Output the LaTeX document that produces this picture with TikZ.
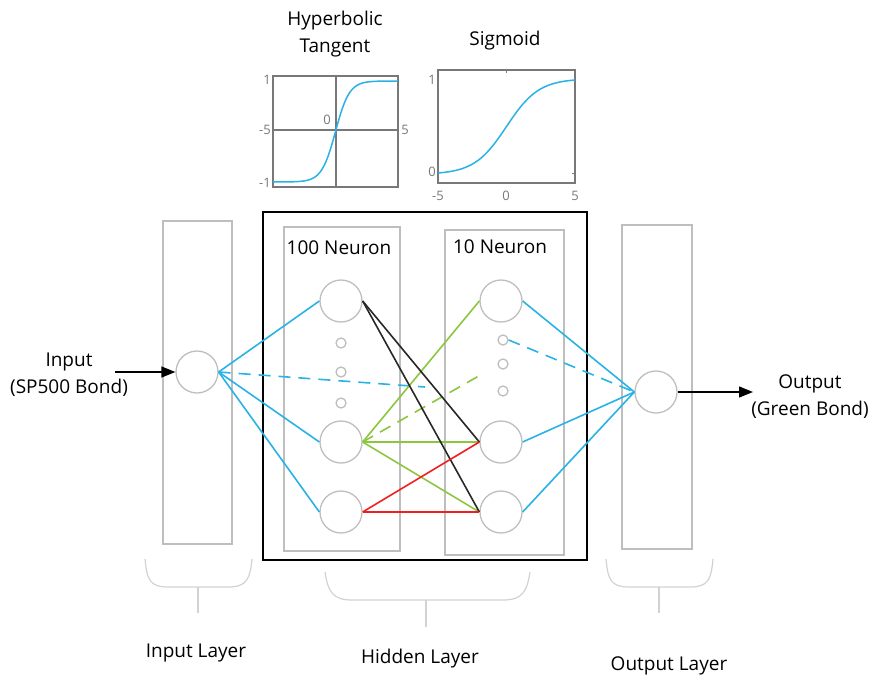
\documentclass[tikz,border=0pt]{standalone}
\usepackage{fontspec}
\setmainfont{Open Sans}
\usetikzlibrary{arrows.meta}
\definecolor{wblue}{RGB}{41,178,230}
\definecolor{wgreen}{RGB}{140,198,63}
\definecolor{wred}{RGB}{240,30,30}
\definecolor{wblack}{RGB}{40,40,40}
\definecolor{boxgray}{RGB}{190,190,190}
\definecolor{axgray}{RGB}{120,120,120}

\begin{document}
\begin{tikzpicture}[x=1pt,y=-1pt,
   neuron/.style={circle,draw=boxgray,line width=1.3pt,minimum size=42pt,inner sep=0pt},
   dot/.style={circle,draw=boxgray,line width=1.3pt,minimum size=10pt,inner sep=0pt},
   layerbox/.style={draw=boxgray,line width=1.1pt},
   lbl/.style={font=\fontsize{19}{27}\selectfont,align=center},
   tick/.style={font=\fontsize{13}{14}\selectfont,text=axgray,inner sep=1pt},
   wire/.style={line width=1.6pt},
   brace/.style={draw=gray!35,line width=1.2pt},
   arr/.style={line width=1.3pt,-{Triangle[length=14pt,width=11pt]}}]
   \useasboundingbox (0,0) rectangle (869,677);

   % activation plots
   \node[lbl] (tanht) at (335,34) {Hyperbolic\\Tangent};
   \node[lbl] (sigt) at (505,41) {Sigmoid};
   \draw[axgray,line width=1.6pt] (273,76) rectangle (398,187);
   \draw[axgray,line width=1.6pt] (336,76) -- (336,187);
   \draw[axgray,line width=1.6pt] (273,130) -- (398,130);
   \draw[wblue,line width=1.5pt] plot[domain=-5:5,samples=80,smooth] ({335.5+12.5*\x},{131.5-50.5*tanh(0.9*\x)});
   \node[tick,anchor=east] (t1) at (272,80) {1};
   \node[tick,anchor=east] (t2) at (272,130) {-5};
   \node[tick,anchor=east] (t3) at (272,183) {-1};
   \node[tick] (t4) at (327,120) {0};
   \node[tick] (t5) at (405,130) {5};

   \draw[axgray,line width=1.6pt] (438,70) rectangle (575,183);
   \draw[axgray,line width=1pt] (506,70) -- (506,73);
   \draw[axgray,line width=1pt] (575,173) -- (572,173);
   \draw[wblue,line width=1.5pt] plot[domain=-5:5,samples=80,smooth] ({506.5+13.7*\x},{173-93*(1/(1+exp(-0.85*\x))-0.014)/0.972});
   \node[tick,anchor=east] (s1) at (437,80) {1};
   \node[tick,anchor=east] (s2) at (437,172) {0};
   \node[tick] (s3) at (438,196) {-5};
   \node[tick] (s4) at (506,196) {0};
   \node[tick] (s5) at (575,196) {5};

   % layers
   \draw[layerbox] (163,221) rectangle (232,544);
   \draw[black,line width=1.5pt] (263,212) rectangle (587,560);
   \draw[layerbox] (284,227) rectangle (400,551);
   \draw[layerbox] (445,230) rectangle (564,555);
   \draw[layerbox] (622,225) rectangle (692,549);
   \node[lbl] (n100) at (339,248) {100 Neuron};
   \node[lbl] (n10) at (500,247) {10 Neuron};

   \node[neuron] (in) at (197,372) {};
   \node[neuron] (h1a) at (341,301) {};
   \node[neuron] (h1b) at (341,442) {};
   \node[neuron] (h1c) at (341,512) {};
   \node[dot] (d1a) at (341,343) {};
   \node[dot] (d1b) at (341,372) {};
   \node[dot] (d1c) at (341,403) {};
   \node[neuron] (h2a) at (501,301) {};
   \node[neuron] (h2b) at (501,442) {};
   \node[neuron] (h2c) at (501,512) {};
   \node[dot] (d2a) at (503,340) {};
   \node[dot] (d2b) at (503,364) {};
   \node[dot] (d2c) at (503,391) {};
   \node[neuron] (out) at (656,392) {};

   \coordinate (bend) at (425,387);
   \coordinate (gend) at (484,373);
   \coordinate (inarr) at (115,372);
   \coordinate (outarr) at (753,392);

   % connections
   \draw[wire,wblue] (in.east) -- (h1a.west);
   \draw[wire,wblue] (in.east) -- (h1b.west);
   \draw[wire,wblue] (in.east) -- (h1c.west);
   \draw[wire,wblue,dash pattern=on 12pt off 8pt] (in.east) -- (bend);
   \draw[wire,wgreen] (h1b.east) -- (h2a.west);
   \draw[wire,wgreen] (h1b.east) -- (h2b.west);
   \draw[wire,wgreen] (h1b.east) -- (h2c.west);
   \draw[wire,wgreen,dash pattern=on 12pt off 8pt] (h1b.east) -- (gend);
   \draw[wire,wblack] (h1a.east) -- (h2b.west);
   \draw[wire,wblack] (h1a.east) -- (h2c.west);
   \draw[wire,wred] (h1c.east) -- (h2b.west);
   \draw[wire,wred] (h1c.east) -- (h2c.west);
   \draw[wire,wblue] (h2a.east) -- (out.west);
   \draw[wire,wblue] (h2b.east) -- (out.west);
   \draw[wire,wblue] (h2c.east) -- (out.west);
   \draw[wire,wblue,dash pattern=on 12pt off 8pt] (d2a.east) -- (out.west);

   \draw[arr] (inarr) -- (in.west);
   \draw[arr] (out.east) -- (outarr);
   \node[lbl] (inl) at (69,375) {Input\\(SP500 Bond)};
   \node[lbl] (outl) at (810,397) {Output\\(Green Bond)};

   % braces
   \draw[brace] (145,559) .. controls (147,580) and (150,587) .. (168,587) -- (228,587) .. controls (246,587) and (250,580) .. (252,559);
   \draw[brace] (198,587) -- (198,613);
   \draw[brace] (325,572) .. controls (328,592) and (333,600) .. (352,600) -- (503,600) .. controls (522,600) and (527,592) .. (530,572);
   \draw[brace] (426,600) -- (426,627);
   \draw[brace] (606,559) .. controls (608,580) and (611,587) .. (629,587) -- (690,587) .. controls (708,587) and (711,580) .. (713,559);
   \draw[brace] (659,587) -- (659,613);
   \node[lbl] (inlay) at (196,653) {Input Layer};
   \node[lbl] (hidlay) at (420,659) {Hidden Layer};
   \node[lbl] (outlay) at (669,666) {Output Layer};
\end{tikzpicture}
\end{document}
